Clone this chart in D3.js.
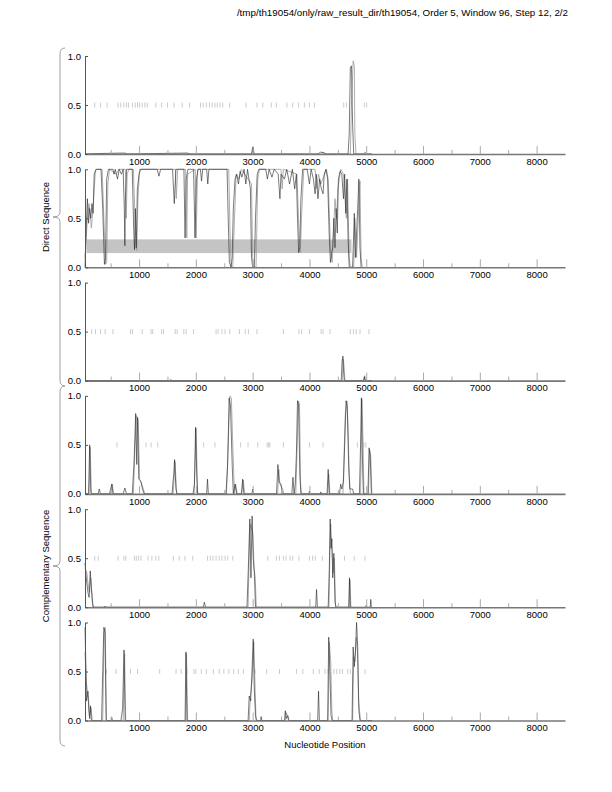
<!DOCTYPE html>
<html>
<head>
<meta charset="utf-8">
<script src="https://cdn.jsdelivr.net/npm/d3@7"></script>
<style>
  body { margin: 0; background: #fff; }
  text { font-family: "Liberation Sans", Arial, sans-serif; fill: #000; }
</style>
</head>
<body>
<svg id="chart" width="612" height="792"></svg>
<script>
// ---- data ----
const title = "/tmp/th19054/only/raw_result_dir/th19054, Order 5, Window 96, Step 12, 2/2";
const xTicks = [1000, 2000, 3000, 4000, 5000, 6000, 7000, 8000];
const xMinor = [500, 1500, 2500, 3500, 4500, 5500, 6500, 7500];
const yTicks = [0.0, 0.5, 1.0];
const groupLabels = ["Direct Sequence", "Complementary Sequence"];

// frame 1 direct
const f1Black = [[48,0],[300,0.005],[750,0.01],[800,0],[1850,0.01],[1900,0],[2980,0],[3000,0.07],[3020,0],[4150,0],[4200,0.02],[4260,0.01],[4300,0],[4680,0],[4700,0.2],[4720,0.88],[4740,0.9],[4760,0.3],[4780,0],[5100,0]];
const f1Gray = [[48,0],[2990,0],[3010,0.07],[3030,0],[4220,0],[4240,0.02],[4280,0],[4720,0],[4740,0.5],[4770,0.95],[4790,0.9],[4800,0.2],[4820,0],[4960,0],[4980,0.02],[5000,0],[5100,0]];
const f1Stops = [219,322,438,630,678,733,781,815,884,932,973,1007,1055,1103,1144,1295,1397,1500,1617,1760,1891,2082,2130,2185,2240,2288,2336,2377,2425,2473,2596,2884,3076,3178,3329,3418,3603,3706,3809,3911,4000,4089,4603,4651,4966,5007];

// frame 2 direct
const f2Black = [[48,0],[70,0.4],[90,0.7],[110,0.45],[130,0.6],[150,0.5],[170,0.65],[190,0.55],[210,0.95],[240,1],[330,1],[360,0.6],[390,0.03],[410,0.1],[430,0.9],[460,1],[540,1],[560,0.95],[580,1],[620,0.9],[650,1],[690,0.95],[720,1],[740,0.6],[750,0.22],[760,0.7],[780,1],[880,1],[905,0.4],[920,0.18],[935,0.6],[950,0.2],[970,0.8],[1000,0.95],[1030,1],[1320,1],[1350,0.93],[1380,1],[1590,1],[1620,0.65],[1650,1],[1790,1],[1810,0.3],[1830,0.9],[1860,1],[1960,1],[1985,0.3],[2010,0.9],[2040,1],[2080,1],[2100,0.88],[2120,1],[2190,1],[2210,0.85],[2230,1],[2550,1],[2570,0.5],[2590,0.05],[2620,0],[2640,0.1],[2660,0.6],[2690,0.9],[2720,0.95],[2750,0.85],[2780,0.98],[2810,0.92],[2850,1],[2880,0.85],[2910,1],[2960,0.8],[2980,0.1],[3000,0],[3030,0],[3050,0.5],[3080,0.95],[3110,1],[3230,1],[3260,0.9],[3290,1],[3340,0.92],[3380,1],[3450,0.95],[3480,0.7],[3500,0.95],[3560,0.9],[3600,1],[3650,0.85],[3700,1],[3740,0.8],[3770,0.95],[3790,0.5],[3810,0.15],[3830,0.2],[3850,0.7],[3880,1],[3960,1],[4000,0.85],[4030,1],[4070,0.9],[4100,0.75],[4120,0.95],[4150,0.7],[4180,0.9],[4210,0.8],[4240,0.75],[4260,0.95],[4290,1],[4320,0.9],[4350,0.3],[4370,0.05],[4390,0.15],[4410,0.2],[4430,0.5],[4450,0.2],[4470,0.6],[4490,0.35],[4510,0.9],[4540,0.98],[4570,0.95],[4600,0.7],[4620,0.95],[4640,0.55],[4660,0.9],[4680,0.3],[4700,0],[4760,0],[4790,0.55],[4810,0.1],[4850,0.6],[4870,0.9],[4890,0.2],[4910,0]];
const f2Gray = [[48,0.1],[90,0.5],[120,0.65],[160,0.4],[190,0.6],[230,0.98],[260,1],[350,1],[380,0.5],[410,0.03],[430,0.05],[450,0.85],[480,1],[600,0.95],[640,1],[760,1],[775,0.5],[790,0.95],[820,1],[900,1],[940,0.3],[960,0.17],[980,0.7],[1010,1],[1640,1],[1655,0.7],[1680,1],[1820,1],[1840,0.3],[1855,0.95],[1990,1],[2005,0.3],[2030,1],[2580,1],[2600,0.4],[2620,0],[2650,0],[2680,0.5],[2710,0.95],[2760,0.9],[2800,1],[2980,0.85],[3000,0.1],[3020,0],[3060,0],[3090,0.9],[3120,1],[3500,1],[3520,0.8],[3540,1],[3780,0.95],[3820,0.3],[3840,0.15],[3860,0.5],[3900,1],[4100,1],[4130,0.8],[4160,0.95],[4200,0.85],[4300,1],[4330,0.9],[4370,0.2],[4400,0.05],[4420,0.3],[4450,0.7],[4480,0.5],[4500,0.8],[4550,1],[4600,0.95],[4650,0.5],[4670,0.9],[4700,0.1],[4720,0],[4780,0],[4800,0.5],[4830,0.1],[4860,0.5],[4890,0.88],[4910,0.1],[4930,0]];
const f2Region = [75, 4740, 0.145, 0.285];

// frame 3 direct
const f3Black = [[48,0],[1540,0],[1560,0.01],[1580,0],[4560,0],[4575,0.2],[4590,0.25],[4600,0.1],[4615,0],[4950,0],[4965,0.04],[4980,0],[5100,0]];
const f3Gray = [[48,0],[4580,0],[4595,0.22],[4610,0.15],[4625,0],[4960,0],[4975,0.05],[4990,0],[5100,0]];
const f3Stops = [164,233,322,404,541,849,884,1055,1212,1240,1397,1432,1637,1671,1788,1829,1959,2356,2391,2459,2514,2596,2767,2870,2925,3076,3541,3815,3863,4000,4206,4240,4363,4720,4774,4822,4891,5048];

// frame 1 complementary
const c1Black = [[48,0],[110,0],[130,0.5],[150,0.02],[170,0],[280,0],[300,0.05],[320,0],[480,0],[520,0.1],[540,0],[720,0],[750,0.06],[780,0],[880,0],[910,0.3],[940,0.82],[960,0.3],[975,0.78],[995,0.15],[1030,0.13],[1060,0.05],[1090,0],[1580,0],[1610,0.2],[1625,0.35],[1650,0.05],[1670,0],[1950,0],[1975,0.1],[1995,0.68],[2015,0.2],[2030,0],[2190,0],[2205,0.15],[2220,0],[2530,0],[2560,0.3],[2585,0.98],[2610,0.9],[2640,0.3],[2660,0],[2690,0.1],[2720,0],[2800,0],[2825,0.15],[2845,0],[2990,0],[3000,0.05],[3020,0],[3420,0],[3445,0.3],[3465,0.12],[3500,0.1],[3520,0],[3690,0],[3710,0.17],[3730,0],[3750,0.1],[3770,0.4],[3790,0.95],[3810,0.9],[3830,0.2],[3850,0],[3990,0],[4000,0.03],[4010,0],[4190,0],[4200,0.02],[4210,0],[4310,0],[4330,0.25],[4350,0],[4530,0],[4550,0.1],[4570,0.05],[4600,0.13],[4620,0.5],[4645,0.95],[4665,0.9],[4690,0.3],[4710,0.05],[4760,0.05],[4780,0],[4880,0],[4900,0.5],[4915,0.98],[4935,0.3],[4950,0],[5030,0],[5050,0.47],[5070,0.4],[5090,0]];
const c1Gray = [[48,0],[120,0],[140,0.48],[160,0],[500,0],[530,0.1],[550,0],[900,0],[930,0.5],[955,0.8],[985,0.75],[1010,0.15],[1050,0.1],[1100,0],[1600,0],[1635,0.33],[1660,0],[1970,0],[2005,0.67],[2030,0],[2540,0],[2575,0.6],[2600,1],[2625,0.98],[2650,0.5],[2680,0],[2700,0.1],[2730,0],[2810,0],[2835,0.14],[2860,0],[3440,0],[3460,0.25],[3480,0.1],[3530,0.05],[3550,0],[3760,0],[3785,0.5],[3805,0.95],[3825,0.92],[3845,0.1],[3860,0],[4320,0],[4340,0.2],[4360,0],[4590,0],[4630,0.8],[4660,0.95],[4680,0.7],[4700,0.2],[4720,0],[4900,0],[4925,0.97],[4945,0.5],[4960,0],[5040,0],[5060,0.45],[5080,0.38],[5100,0]];
const c1Stops = [610,1123,1212,1329,2137,2336,2788,2918,3089,3254,3281,3302,3541,4000,4240,4843,4959,4994];

// frame 2 complementary
const c2Black = [[48,0.45],[70,0.3],[100,0.15],[120,0.1],[140,0.37],[160,0.2],[190,0],[380,0],[400,0.01],[420,0],[2130,0],[2150,0.05],[2170,0],[2900,0],[2930,0.5],[2950,0.9],[2970,0.3],[2990,0.93],[3010,0.5],[3030,0.35],[3050,0],[4110,0],[4125,0.18],[4140,0],[4330,0],[4350,0.4],[4365,0.9],[4380,0.6],[4395,0.7],[4410,0.3],[4430,0.55],[4450,0.05],[4470,0],[4690,0],[4705,0.3],[4720,0],[4990,0],[5000,0.02],[5010,0],[5070,0],[5080,0.08],[5090,0]];
const c2Gray = [[48,0.4],[80,0.35],[110,0.2],[130,0.15],[150,0.3],[175,0.05],[200,0],[2920,0],[2945,0.7],[2965,0.85],[2985,0.8],[3005,0.75],[3025,0.4],[3045,0.3],[3065,0],[4345,0],[4360,0.6],[4375,0.85],[4390,0.65],[4405,0.5],[4420,0.35],[4440,0.5],[4460,0],[4700,0],[4715,0.28],[4730,0]];
const c2Stops = [219,281,630,733,767,918,952,993,1034,1158,1226,1295,1349,1603,1706,1808,1945,2206,2254,2302,2356,2411,2459,2514,2562,2651,3267,3418,3473,3541,3589,3658,3706,3815,4000,4055,4103,4226,4617,4788,4979];

// frame 3 complementary
const c3Black = [[48,0.95],[60,0.65],[75,0.2],[90,0.25],[100,0.3],[115,0.1],[130,0.02],[145,0.15],[160,0],[340,0],[360,0.5],[380,0.95],[400,0.9],[420,0],[510,0],[520,0.03],[530,0],[680,0],[710,0.12],[735,0.72],[755,0],[1810,0],[1825,0.7],[1845,0],[2920,0],[2940,0.25],[2965,0.2],[2985,0.45],[3010,0.83],[3030,0.3],[3050,0.05],[3070,0],[3140,0],[3150,0.04],[3160,0],[3560,0],[3575,0.1],[3590,0.02],[3620,0.05],[3640,0],[4145,0],[4160,0.3],[4175,0],[4320,0],[4340,0.85],[4360,0.5],[4380,0.05],[4400,0],[4750,0],[4770,0.75],[4790,0.55],[4810,0.7],[4830,1],[4850,0.75],[4870,0.1],[4890,0],[5100,0]];
const c3Gray = [[48,0.7],[70,0.4],[95,0.28],[110,0.22],[130,0.05],[155,0.13],[175,0],[360,0],[385,0.9],[405,0.95],[425,0],[720,0],[745,0.68],[765,0],[1820,0],[1835,0.68],[1855,0],[2940,0],[2960,0.25],[2990,0.4],[3020,0.8],[3040,0.4],[3060,0],[3580,0],[3595,0.08],[3610,0.05],[3630,0],[4330,0],[4350,0.8],[4375,0.6],[4395,0.1],[4410,0],[4760,0],[4780,0.65],[4800,0.6],[4825,0.85],[4845,0.7],[4865,0.2],[4900,0],[5100,0]];
const c3Stops = [425,596,849,973,1363,1651,1740,1843,1966,2000,2096,2185,2308,2411,2493,2582,2665,2747,2836,3041,3247,3473,3774,3884,4069,4172,4274,4329,4432,4480,4535,4582,4672,4720,4979];

const panels = [
  {black: f1Black, gray: f1Gray, stops: f1Stops},
  {black: f2Black, gray: f2Gray, stops: [], region: f2Region},
  {black: f3Black, gray: f3Gray, stops: f3Stops},
  {black: c1Black, gray: c1Gray, stops: c1Stops},
  {black: c2Black, gray: c2Gray, stops: c2Stops},
  {black: c3Black, gray: c3Gray, stops: c3Stops}
];

// ---- layout ----
const svg = d3.select("#chart");
const left = 85, right = 565;
const top0 = 56, step = 113.3, ph = 98;

const x = d3.scaleLinear().domain([48, 8500]).range([left, right]);

svg.append("text")
  .attr("x", 568).attr("y", 16)
  .attr("text-anchor", "end")
  .style("font-size", "9.8px")
  .text(title);

panels.forEach(function (p, i) {
  let py = top0 + i * step;
  let y = d3.scaleLinear().domain([0, 1]).range([py + ph, py]);
  let g = svg.append("g").attr("class", "panel");

  if (p.region) {
    g.append("rect")
      .attr("x", x(p.region[0]))
      .attr("width", x(p.region[1]) - x(p.region[0]))
      .attr("y", y(p.region[3]))
      .attr("height", y(p.region[2]) - y(p.region[3]))
      .attr("fill", "#c4c4c4");
  }

  // stop markers at 0.5
  g.selectAll(".stop")
    .data(p.stops)
    .enter()
    .append("line")
    .attr("class", "stop")
    .attr("x1", d => x(d)).attr("x2", d => x(d))
    .attr("y1", y(0.5) - 2.5).attr("y2", y(0.5) + 2.5)
    .attr("stroke", "#aaa")
    .attr("stroke-width", 0.6);

  let line = d3.line().x(d => x(d[0])).y(d => y(d[1]));
  g.append("path").datum(p.gray)
    .attr("d", line).attr("fill", "none")
    .attr("stroke", "#9a9a9a").attr("stroke-width", 0.8);
  g.append("path").datum(p.black)
    .attr("d", line).attr("fill", "none")
    .attr("stroke", "#222").attr("stroke-width", 0.6);

  // minor x ticks
  g.append("g")
    .attr("transform", "translate(0," + (py + ph) + ")")
    .call(d3.axisBottom(x).tickValues(xMinor).tickSizeInner(-4).tickSizeOuter(0).tickFormat(""))
    .call(a => a.select(".domain").remove())
    .selectAll(".tick line").attr("stroke", "#aaa");

  // x axis
  let xa = g.append("g")
    .attr("transform", "translate(0," + (py + ph) + ")")
    .call(d3.axisBottom(x).tickValues(xTicks).tickFormat(d3.format("d")).tickSizeInner(-8).tickSizeOuter(0).tickPadding(4));
  xa.select(".domain").attr("stroke", "#777").attr("stroke-width", 1.6);
  xa.selectAll(".tick line").attr("stroke", "#aaa");
  xa.selectAll(".tick text").style("font-size", "9.5px").attr("font-family", null);

  // y axis
  let ya = g.append("g")
    .attr("transform", "translate(" + left + ",0)")
    .call(d3.axisLeft(y).tickValues(yTicks).tickFormat(d3.format(".1f")).tickSizeInner(-3).tickSizeOuter(0).tickPadding(4));
  ya.select(".domain").attr("stroke", "#555");
  ya.selectAll(".tick line").attr("stroke", "#555");
  ya.selectAll(".tick text").style("font-size", "9.5px").attr("font-family", null);
});

// braces on the left
function brace(y0, y1) {
  let xm = 60, xt = 53, xe = 65, ym = (y0 + y1) / 2;
  return "M" + xe + "," + y0 +
    " Q" + xm + "," + y0 + " " + xm + "," + (y0 + 6) +
    " L" + xm + "," + (ym - 5) +
    " Q" + xm + "," + ym + " " + xt + "," + ym +
    " Q" + xm + "," + ym + " " + xm + "," + (ym + 5) +
    " L" + xm + "," + (y1 - 6) +
    " Q" + xm + "," + y1 + " " + xe + "," + y1;
}
let braceSpans = [[48, 386], [386, 746]];
braceSpans.forEach(function (s, i) {
  svg.append("path").attr("d", brace(s[0], s[1]))
    .attr("fill", "none").attr("stroke", "#888").attr("stroke-width", 0.8);
  let cy = (s[0] + s[1]) / 2;
  svg.append("text")
    .attr("transform", "translate(49," + cy + ") rotate(-90)")
    .attr("text-anchor", "middle")
    .style("font-size", "9.5px")
    .text(groupLabels[i]);
});

svg.append("text")
  .attr("x", (left + right) / 2).attr("y", 748)
  .attr("text-anchor", "middle")
  .style("font-size", "9.5px")
  .text("Nucleotide Position");
</script>
</body>
</html>
